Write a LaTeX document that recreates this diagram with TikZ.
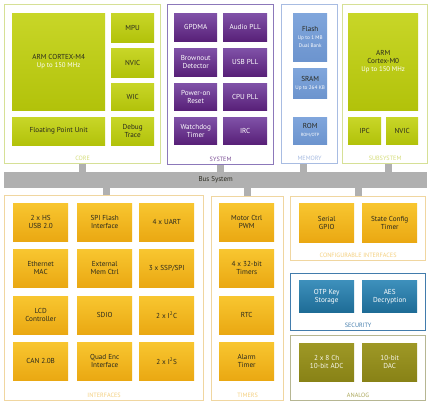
\documentclass[tikz,border=0pt]{standalone}
\usepackage{fontspec}
\setmainfont{PT Sans}
\usepackage{tikz}
\usetikzlibrary{positioning,calc}
\usepackage{xcolor}
\definecolor{limeA}{RGB}{200,214,40}
\definecolor{limeB}{RGB}{178,194,10}
\definecolor{limeE}{RGB}{214,224,150}
\definecolor{purA}{RGB}{128,82,168}
\definecolor{purB}{RGB}{88,32,120}
\definecolor{purE}{RGB}{140,120,186}
\definecolor{memA}{RGB}{128,166,220}
\definecolor{memB}{RGB}{108,148,206}
\definecolor{memE}{RGB}{168,188,226}
\definecolor{orgA}{RGB}{248,198,48}
\definecolor{orgB}{RGB}{234,168,18}
\definecolor{orgE}{RGB}{240,214,160}
\definecolor{secA}{RGB}{62,144,188}
\definecolor{secB}{RGB}{30,108,150}
\definecolor{secE}{RGB}{66,124,172}
\definecolor{anaA}{RGB}{158,152,38}
\definecolor{anaB}{RGB}{136,130,22}
\definecolor{anaE}{RGB}{182,182,146}
\definecolor{busG}{RGB}{176,176,176}
\definecolor{inkD}{RGB}{40,40,30}
\newcommand\subtxt{\fontsize{6.8}{7.6}\selectfont\color{white}}
\newcommand\memtxt{\fontsize{5.2}{6}\selectfont\color{white}}
\tikzset{
  sz/.style 2 args={anchor=north west,minimum width=#1,minimum height=#2},
  blk/.style={rectangle,inner sep=1pt,align=center,
    font=\fontsize{7.2}{8}\selectfont},
  lime/.style={blk,top color=limeA,bottom color=limeB,text=inkD},
  pur/.style={blk,top color=purA,bottom color=purB,text=white},
  mem/.style={blk,top color=memA,bottom color=memB,text=inkD},
  org/.style={blk,top color=orgA,bottom color=orgB,text=inkD},
  sec/.style={blk,top color=secA,bottom color=secB,text=white},
  ana/.style={blk,top color=anaA,bottom color=anaB,text=white!92!anaA},
  grp/.style={draw=#1,fill=white,line width=1.2pt,anchor=north west,inner sep=0pt},
  grplbl/.style={font=\fontsize{6.2}{7}\selectfont,inner sep=0pt},
  stub/.style={busG,line width=7pt},
}
\begin{document}
\begin{tikzpicture}[x=1pt,y=-1pt]
  \useasboundingbox[fill=white] (0,0) rectangle (430,404);
  % top row groups
  \node[grp=limeE,minimum width=156pt,minimum height=159pt] (core) at (4,4) {};
  \node[grp=purE,minimum width=106pt,minimum height=160pt] (sys) at (167,4) {};
  \node[grp=memE,minimum width=56pt,minimum height=159pt] (mem) at (281,4) {};
  \node[grp=limeE,minimum width=85pt,minimum height=159pt] (subs) at (342,4) {};
  % bus
  \node[anchor=north west,fill=busG,minimum width=423pt,minimum height=16pt,inner sep=0pt,
    font=\fontsize{7}{8}\selectfont,text=inkD] (bus) at (4,172) {Bus System};
  % bottom groups
  \node[grp=orgE,minimum width=199pt,minimum height=205pt] (intf) at (4,195) {};
  \node[grp=orgE,minimum width=72pt,minimum height=204pt] (tmr) at (211,196) {};
  \node[grp=orgE,minimum width=135pt,minimum height=64pt] (cfg) at (290,196) {};
  \node[grp=secE,minimum width=135pt,minimum height=57pt] (sec) at (290,273) {};
  \node[grp=anaE,minimum width=135pt,minimum height=65pt] (ana) at (290,335) {};
  % stubs to the bus
  \draw[stub] (core.south) -- (core.south |- bus.north);
  \draw[stub] (sys.south) -- (sys.south |- bus.north);
  \draw[stub] ([xshift=-6pt]mem.south) -- ([xshift=-6pt]mem.south |- bus.north);
  \draw[stub] ([xshift=3pt]subs.south) -- ([xshift=3pt]subs.south |- bus.north);
  \draw[stub] ([xshift=2pt]intf.north) -- ([xshift=2pt]intf.north |- bus.south);
  \draw[stub] (tmr.north) -- (tmr.north |- bus.south);
  \draw[stub] (cfg.north) -- (cfg.north |- bus.south);
  % CORE
  \node[lime,sz={93pt}{97pt}] (m4) at (12,13) {ARM CORTEX-M4\\{\subtxt Up to 150 MHz}};
  \node[lime,sz={43pt}{29pt}] (mpu) at (111,13) {MPU};
  \node[lime,sz={43pt}{29pt}] (nvic) at (111,48) {NVIC};
  \node[lime,sz={43pt}{27pt}] (wic) at (111,83) {WIC};
  \node[lime,sz={93pt}{28pt}] (fpu) at (12,117) {Floating Point Unit};
  \node[lime,sz={43pt}{28pt}] (dbg) at (111,117) {Debug\\Trace};
  \node[grplbl,text=limeB!55,above=3pt of core.south] {CORE};
  % SYSTEM
  \node[pur,sz={43pt}{28pt}] (dma) at (174,13) {GPDMA};
  \node[pur,sz={44pt}{28pt}] (apll) at (223,13) {Audio PLL};
  \node[pur,sz={43pt}{28pt}] (bod) at (174,48) {Brownout\\Detector};
  \node[pur,sz={44pt}{28pt}] (upll) at (223,48) {USB PLL};
  \node[pur,sz={43pt}{27pt}] (por) at (174,83) {Power-on\\Reset};
  \node[pur,sz={44pt}{27pt}] (cpll) at (223,83) {CPU PLL};
  \node[pur,sz={43pt}{27pt}] (wdt) at (174,117) {Watchdog\\Timer};
  \node[pur,sz={44pt}{27pt}] (irc) at (223,117) {IRC};
  \node[grplbl,text=purB!80,above=3pt of sys.south] {SYSTEM};
  % MEMORY
  \node[mem,sz={34pt}{48pt}] (flash) at (293,13) {Flash\\{\memtxt Up to 1 MB}\\{\memtxt Dual Bank}};
  \node[mem,sz={34pt}{30pt}] (sram) at (293,68) {SRAM\\{\memtxt Up to 264 KB}};
  \node[mem,sz={34pt}{27pt}] (rom) at (293,117) {ROM\\{\memtxt\fontsize{4.5}{5}\selectfont ROM/OTP}};
  \node[grplbl,text=memE,above=3pt of mem.south] {MEMORY};
  % SUBSYSTEM
  \node[lime,sz={70pt}{97pt}] (m0) at (348,13) {ARM\\Cortex-M0\\{\subtxt Up to 150 MHz}};
  \node[lime,sz={33pt}{27pt}] (ipc) at (348,117) {IPC};
  \node[lime,sz={32pt}{27pt}] (nvicb) at (386,117) {NVIC};
  \node[grplbl,text=limeB!55,above=3pt of subs.south] {SUBSYSTEM};
  % INTERFACES
  \node[org,sz={55pt}{38pt}] (usb) at (13,203) {2 x HS\\USB 2.0};
  \node[org,sz={55pt}{38pt}] (spifi) at (77,203) {SPI Flash\\Interface};
  \node[org,sz={55pt}{38pt}] (uart) at (139,203) {4 x UART};
  \node[org,sz={55pt}{38pt}] (eth) at (13,249) {Ethernet\\MAC};
  \node[org,sz={55pt}{38pt}] (emc) at (77,249) {External\\Mem Ctrl};
  \node[org,sz={55pt}{38pt}] (ssp) at (139,249) {3 x SSP/SPI};
  \node[org,sz={55pt}{38pt}] (lcd) at (13,296) {LCD\\Controller};
  \node[org,sz={55pt}{38pt}] (sdio) at (77,296) {SDIO};
  \node[org,sz={55pt}{38pt}] (i2c) at (139,296) {2 x I\textsuperscript{2}C};
  \node[org,sz={55pt}{38pt}] (can) at (13,342) {CAN 2.0B};
  \node[org,sz={55pt}{38pt}] (qei) at (77,342) {Quad Enc\\Interface};
  \node[org,sz={55pt}{38pt}] (i2s) at (139,342) {2 x I\textsuperscript{2}S};
  \node[grplbl,text=orgB!55,above=3pt of intf.south] {INTERFACES};
  % TIMERS
  \node[org,sz={55pt}{38pt}] (pwm) at (219,203) {Motor Ctrl\\PWM};
  \node[org,sz={55pt}{38pt}] (t32) at (219,249) {4 x 32-bit\\Timers};
  \node[org,sz={55pt}{38pt}] (rtc) at (219,296) {RTC};
  \node[org,sz={55pt}{38pt}] (alrm) at (219,342) {Alarm\\Timer};
  \node[grplbl,text=orgB!55,above=3pt of tmr.south] {TIMERS};
  % CONFIGURABLE INTERFACES
  \node[org,sz={55pt}{39pt}] (sgpio) at (299,203) {Serial\\GPIO};
  \node[org,sz={55pt}{39pt}] (sct) at (362,203) {State Config\\Timer};
  \node[grplbl,text=orgB!55,above=3pt of cfg.south] {CONFIGURABLE INTERFACES};
  % SECURITY
  \node[sec,sz={55pt}{32pt}] (otp) at (299,280) {OTP Key\\Storage};
  \node[sec,sz={55pt}{32pt}] (aes) at (362,280) {AES\\Decryption};
  \node[grplbl,text=secE,above=3pt of sec.south] {SECURITY};
  % ANALOG
  \node[ana,sz={55pt}{38pt}] (adc) at (299,343) {2 x 8 Ch\\10-bit ADC};
  \node[ana,sz={55pt}{38pt}] (dac) at (362,343) {10-bit\\DAC};
  \node[grplbl,text=anaB!70,above=3pt of ana.south] {ANALOG};
\end{tikzpicture}
\end{document}
